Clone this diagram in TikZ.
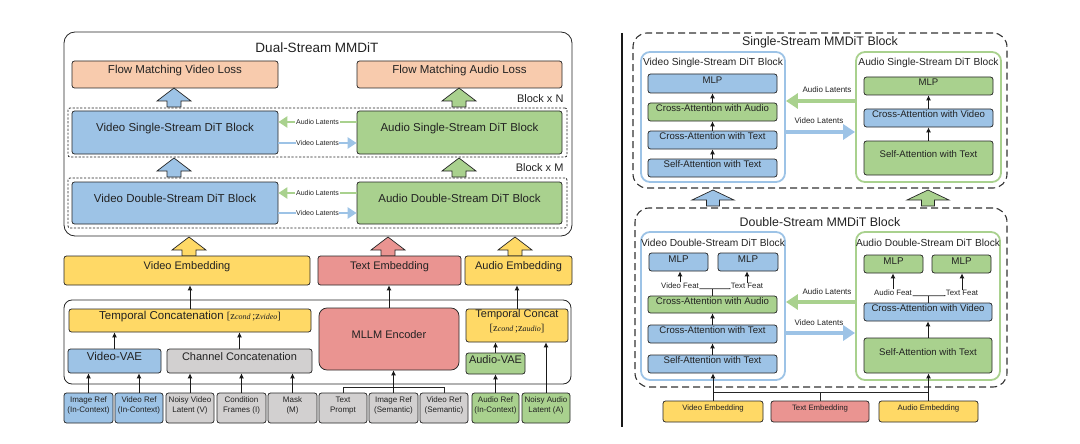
\documentclass[tikz,border=0pt]{standalone}
\usepackage{fontspec}
\setmainfont{Liberation Sans}
\newfontfamily\zserif{Liberation Serif}
\usetikzlibrary{arrows.meta,fit,calc}
\definecolor{bluef}{RGB}{157,195,230}
\definecolor{greenf}{RGB}{169,209,142}
\definecolor{peach}{RGB}{248,203,173}
\definecolor{yellowf}{RGB}{255,217,102}
\definecolor{redf}{RGB}{234,148,145}
\definecolor{grayf}{RGB}{210,208,208}
\definecolor{txt}{RGB}{34,34,34}
\newcommand\bx[5][]{\node[box,#1,fit={(#3) (#4)}] (#2) {#5};}
\newcommand\zz[2]{{\zserif\fontsize{10.5}{12}\selectfont z\fontsize{8}{10}\selectfont\itshape #2}}
\begin{document}
\begin{tikzpicture}[x=1pt,y=-1pt,
  fs/.style n args={2}{font=\fontsize{#1}{#2}\selectfont},
  box/.style={draw=black!85,line width=0.75pt,rounded corners=2.5pt,inner sep=0pt,align=center,text=txt},
  arr/.style={-{Latex[length=5pt,width=5pt]},line width=0.9pt,black!90},
  ln/.style={line width=0.8pt,black!85},
  latL/.style={line width=2.6pt,-{Triangle[length=9pt,width=11pt]}},
  latR/.style={line width=3.4pt,-{Triangle[length=12pt,width=15pt]}},
  dashL/.style={draw=black!85,line width=0.8pt,dash pattern=on 2.2pt off 1.6pt,rounded corners=2pt,inner sep=0pt},
  dashR/.style={draw=black!80,line width=1.1pt,dash pattern=on 7pt off 4pt,rounded corners=14pt,inner sep=0pt},
  contB/.style={draw=bluef,line width=1.8pt,rounded corners=9pt,inner sep=0pt},
  contG/.style={draw=greenf,line width=1.8pt,rounded corners=9pt,inner sep=0pt},
  upL/.pic={\path[pic actions] (-7,0) -- (-7,-6) -- (-17,-6) -- (0,-19) -- (17,-6) -- (7,-6) -- (7,0) -- cycle;},
  upR/.pic={\path[pic actions] (-6.5,0) -- (-6.5,-6) -- (-21,-6) -- (0,-16) -- (21,-6) -- (6.5,-6) -- (6.5,0) -- cycle;},
  ba/.style={draw=black!85,line width=0.7pt}
]
\useasboundingbox (0,0) rectangle (1080,444);
% ================= LEFT PANEL =================
\node[draw=black!85,line width=0.8pt,rounded corners=11pt,inner sep=0pt,fit={(64,32) (572,236)}] (outer) {};
\node[fs={13.5}{16},text=txt] (ttl) at (317,48) {Dual-Stream MMDiT};
\bx[fill=peach,fs={11.5}{14}]{vloss}{72,61}{278,88}{Flow Matching Video Loss}
\bx[fill=peach,fs={11.5}{14}]{aloss}{357,61}{562,88}{Flow Matching Audio Loss}
\node[fs={11}{13},text=txt,anchor=east] (bn) at (567,99) {Block x N};
\node[dashL,fit={(68,108) (567,157)}] (dn) {};
\bx[fill=bluef,fs={11.5}{14}]{vss}{72,111}{278,154}{Video Single-Stream DiT Block}
\bx[fill=greenf,fs={11.5}{14}]{ass}{357,111}{562,154}{Audio Single-Stream DiT Block}
\node[fs={11}{13},text=txt,anchor=east] (bm) at (567,168) {Block x M};
\node[dashL,fit={(68,178) (567,228)}] (dm) {};
\bx[fill=bluef,fs={11.5}{14}]{vds}{72,182}{278,224}{Video Double-Stream DiT Block}
\bx[fill=greenf,fs={11.5}{14}]{ads}{357,182}{562,224}{Audio Double-Stream DiT Block}
% latents arrows
\draw[latL,greenf] (ass.west |- 0,122) -- (vss.east |- 0,122) node[midway,fill=white,inner sep=0.6pt,fs={7}{8},text=txt] {Audio Latents};
\draw[latL,bluef] (vss.east |- 0,143) -- (ass.west |- 0,143) node[midway,fill=white,inner sep=0.6pt,fs={7}{8},text=txt] {Video Latents};
\draw[latL,greenf] (ads.west |- 0,193) -- (vds.east |- 0,193) node[midway,fill=white,inner sep=0.6pt,fs={7}{8},text=txt] {Audio Latents};
\draw[latL,bluef] (vds.east |- 0,213) -- (ads.west |- 0,213) node[midway,fill=white,inner sep=0.6pt,fs={7}{8},text=txt] {Video Latents};
% block arrows
\pic[ba,fill=bluef] at (174,107) {upL};
\pic[ba,fill=greenf] at (459,107) {upL};
\pic[ba,fill=bluef] at (174,177) {upL};
\pic[ba,fill=greenf] at (459,177) {upL};
\pic[ba,fill=yellowf] at (189,256) {upL};
\pic[ba,fill=redf] at (388,256) {upL};
\pic[ba,fill=yellowf] at (515,256) {upL};
% embeddings
\bx[fill=yellowf,fs={11}{13}]{vemb}{64,256}{310,285}{Video Embedding}
\bx[fill=redf,fs={11}{13}]{temb}{318,256}{461,285}{Text Embedding}
\bx[fill=yellowf,fs={11}{13}]{aemb}{465,256}{572,285}{Audio Embedding}
% lower container
\node[draw=black!85,line width=0.8pt,rounded corners=8pt,inner sep=0pt,fit={(64,300) (571,384)}] (lower) {};
\bx[fill=yellowf,fs={11.5}{14}]{tcat}{69,309}{311,332}{Temporal Concatenation {\zserif\fontsize{10.5}{12}\selectfont[}\zz{}{cond}{\zserif\fontsize{10.5}{12}\selectfont\,;}\zz{}{video}{\zserif\fontsize{10.5}{12}\selectfont]}}
\bx[fill=bluef,fs={11.5}{14}]{vvae}{68,349}{161,373}{Video-VAE}
\bx[fill=grayf,fs={11}{13}]{ccat}{167,349}{312,373}{Channel Concatenation}
\bx[fill=redf,fs={11}{13},rounded corners=8pt]{mllm}{319,308}{459,370}{MLLM Encoder}
\bx[fill=yellowf,fs={11}{14}]{tcat2}{466,309}{568,342}{Temporal Concat\\{\zserif\fontsize{10.5}{12}\selectfont[}\zz{}{cond}{\zserif\fontsize{10.5}{12}\selectfont\,;}\zz{}{audio}{\zserif\fontsize{10.5}{12}\selectfont]}}
\bx[fill=greenf,fs={11}{13}]{avae}{466,353}{525,374}{Audio-VAE}
% inputs
\bx[fill=bluef,fs={8}{10}]{in1}{64,393}{113,423}{Image Ref\\(In-Context)}
\bx[fill=bluef,fs={8}{10}]{in2}{115,393}{163,423}{Video Ref\\(In-Context)}
\bx[fill=grayf,fs={8}{10}]{in3}{166,393}{214,423}{Noisy Video\\Latent (V)}
\bx[fill=grayf,fs={8}{10}]{in4}{217,393}{266,423}{Condition\\Frames (I)}
\bx[fill=grayf,fs={8}{10}]{in5}{268,393}{317,423}{Mask\\(M)}
\bx[fill=grayf,fs={8}{10}]{in6}{319,393}{367,423}{Text\\Prompt}
\bx[fill=grayf,fs={8}{10}]{in7}{369,393}{418,423}{Image Ref\\(Semantic)}
\bx[fill=grayf,fs={8}{10}]{in8}{420,393}{468,423}{Video Ref\\(Semantic)}
\bx[fill=greenf,fs={8}{10}]{in9}{472,393}{519,423}{Audio Ref\\(In-Context)}
\bx[fill=greenf,fs={8}{10}]{in10}{522,393}{570,423}{Noisy Audio\\Latent (A)}
% small arrows
\draw[arr] (in1.north) -- (in1.north |- vvae.south);
\draw[arr] (in2.north) -- (in2.north |- vvae.south);
\draw[arr] (in3.north) -- (in3.north |- ccat.south);
\draw[arr] (in4.north) -- (in4.north |- ccat.south);
\draw[arr] (in5.north) -- (in5.north |- ccat.south);
\draw[arr] (vvae.north) -- (vvae.north |- tcat.south);
\draw[arr] (ccat.north) -- (ccat.north |- tcat.south);
\draw[arr] (tcat.north) -- (tcat.north |- vemb.south);
\draw[ln] (in6.north) -- (in6.north |- 0,387) -- (in8.north |- 0,387) -- (in8.north);
\draw[arr] (in7.north) -- (in7.north |- mllm.south);
\draw[arr] (mllm.north) -- (mllm.north |- temb.south);
\draw[arr] (in9.north) -- (in9.north |- avae.south);
\draw[arr] (avae.north) -- (avae.north |- tcat2.south);
\draw[arr] (in10.north) -- (in10.north |- tcat2.south);
\draw[arr] (tcat2.north) -- (tcat2.north |- aemb.south);
% separator
\draw[line width=1.2pt,black!90] (622,33) -- (622,427);
% ================= RIGHT PANEL =================
\node[dashR,fit={(633,33) (1007,188)}] (ssb) {};
\node[fs={12.4}{15},text=txt] (ssbt) at (820,42) {Single-Stream MMDiT Block};
\node[contB,fit={(641,52) (785,182)}] (vssB) {};
\node[fs={10.2}{12},text=txt] at (713,63) {Video Single-Stream DiT Block};
\bx[fill=bluef,fs={9.6}{12}]{mlp1}{648,74}{777,93}{MLP}
\bx[fill=greenf,fs={9.6}{12}]{caa1}{648,103}{777,121}{Cross-Attention with Audio}
\bx[fill=bluef,fs={9.6}{12}]{cat1}{648,131}{777,149}{Cross-Attention with Text}
\bx[fill=bluef,fs={9.6}{12}]{sat1}{648,159}{777,177}{Self-Attention with Text}
\draw[arr] (sat1.north) -- (cat1.south);
\draw[arr] (cat1.north) -- (caa1.south);
\draw[arr] (caa1.north) -- (mlp1.south);
\node[contG,fit={(856,52) (1001,182)}] (assB) {};
\node[fs={10.2}{12},text=txt] at (928.5,63) {Audio Single-Stream DiT Block};
\bx[fill=greenf,fs={9.6}{12}]{mlp2}{864,77}{993,95}{MLP}
\bx[fill=bluef,fs={9.6}{12}]{cav2}{864,109}{993,127}{Cross-Attention with Video}
\bx[fill=greenf,fs={9.6}{12}]{sat2}{864,141}{993,175}{Self-Attention with Text}
\draw[arr] (sat2.north) -- (cav2.south);
\draw[arr] (cav2.north) -- (mlp2.south);
\draw[latR,greenf] (assB.west |- 0,101) -- (vssB.east |- 0,101);
\node[fs={8}{10},text=txt] at (827,90) {Audio Latents};
\draw[latR,bluef] (vssB.east |- 0,132) -- (assB.west |- 0,132);
\node[fs={8}{10},text=txt] at (819,121) {Video Latents};
\pic[ba,fill=bluef] at (713,206) {upR};
\pic[ba,fill=greenf] at (928,206) {upR};
% double stream
\node[dashR,fit={(635,208) (1007,387)}] (dsb) {};
\node[fs={12.4}{15},text=txt] (dsbt) at (820,222) {Double-Stream MMDiT Block};
\node[contB,fit={(641,232) (785,380)}] (vdsB) {};
\node[fs={10.2}{12},text=txt] at (713,243) {Video Double-Stream DiT Block};
\bx[fill=bluef,fs={9.8}{12}]{mlp3a}{649,253}{708,271}{MLP}
\bx[fill=bluef,fs={9.8}{12}]{mlp3b}{718,253}{778,271}{MLP}
\bx[fill=greenf,fs={9.6}{12}]{caa3}{648,296}{777,313}{Cross-Attention with Audio}
\bx[fill=bluef,fs={9.6}{12}]{cat3}{648,325}{777,343}{Cross-Attention with Text}
\bx[fill=bluef,fs={9.6}{12}]{sat3}{648,355}{777,373}{Self-Attention with Text}
\node[fs={7.8}{9},text=txt,inner sep=0.5pt] (vf3) at (680,286) {Video Feat};
\node[fs={7.8}{9},text=txt,inner sep=0.5pt] (tf3) at (747,286) {Text Feat};
\draw[ln] (vf3.base east) -- (tf3.base west);
\draw[ln] (caa3.north) -- (caa3.north |- vf3.base);
\draw[arr] (vf3.north) -- (vf3.north |- mlp3a.south);
\draw[arr] (tf3.north) -- (tf3.north |- mlp3b.south);
\draw[arr] (sat3.north) -- (cat3.south);
\draw[arr] (cat3.north) -- (caa3.south);
\node[contG,fit={(856,232) (1000,380)}] (adsB) {};
\node[fs={10.2}{12},text=txt] at (928,243) {Audio Double-Stream DiT Block};
\bx[fill=greenf,fs={9.8}{12}]{mlp4a}{864,255}{923,273}{MLP}
\bx[fill=greenf,fs={9.8}{12}]{mlp4b}{932,255}{991,273}{MLP}
\bx[fill=bluef,fs={9.6}{12}]{cav4}{864,303}{992,321}{Cross-Attention with Video}
\bx[fill=greenf,fs={9.6}{12}]{sat4}{864,338}{992,373}{Self-Attention with Text}
\node[fs={7.8}{9},text=txt,inner sep=0.5pt] (af4) at (893,293) {Audio Feat};
\node[fs={7.8}{9},text=txt,inner sep=0.5pt] (tf4) at (962,293) {Text Feat};
\draw[ln] (af4.base east) -- (tf4.base west);
\draw[ln] (cav4.north) -- (cav4.north |- af4.base);
\draw[arr] (af4.north) -- (af4.north |- mlp4a.south);
\draw[arr] (tf4.north) -- (tf4.north |- mlp4b.south);
\draw[arr] (sat4.north) -- (cav4.south);
\draw[latR,greenf] (adsB.west |- 0,302) -- (vdsB.east |- 0,302);
\node[fs={8}{10},text=txt] at (827,292) {Audio Latents};
\draw[latR,bluef] (vdsB.east |- 0,333) -- (adsB.west |- 0,333);
\node[fs={8}{10},text=txt] at (819,323) {Video Latents};
% bottom embeddings
\bx[fill=yellowf,fs={7.8}{9}]{vembR}{663,401}{763,422}{Video Embedding}
\bx[fill=redf,fs={7.8}{9}]{tembR}{771,401}{869,422}{Text Embedding}
\bx[fill=yellowf,fs={7.8}{9}]{aembR}{879,401}{978,422}{Audio Embedding}
\draw[ln] (vembR.north |- 0,392) -- (aembR.north |- 0,392);
\draw[ln] (tembR.north) -- (tembR.north |- 0,392);
\draw[arr] (vembR.north) -- (vembR.north |- sat3.south);
\draw[arr] (aembR.north) -- (aembR.north |- sat4.south);
\end{tikzpicture}
\end{document}
